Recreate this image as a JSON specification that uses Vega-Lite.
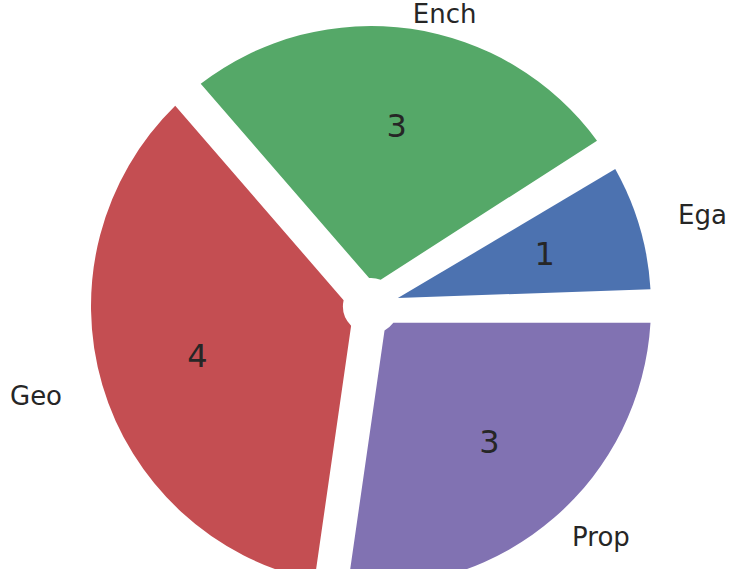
{
  "$schema": "https://vega.github.io/schema/vega-lite/v6.json",
  "width": 732,
  "height": 526,
  "padding": {"left": 5, "top": 43, "right": 0, "bottom": 0},
  "autosize": {"type": "none"},
  "background": "white",
  "view": {"stroke": null},
  "data": {"values": [
    {"label": "Ega", "count": 1},
    {"label": "Ench", "count": 3},
    {"label": "Geo", "count": 4},
    {"label": "Prop", "count": 3}
  ]},
  "encoding": {
    "theta": {"field": "count", "type": "quantitative", "stack": true,
      "scale": {"range": [1.5708, -4.7124]}},
    "order": {"field": "label", "type": "nominal"}
  },
  "layer": [
    {
      "mark": {"type": "arc", "outerRadius": 280, "innerRadius": 28, "padAngle": 0.12},
      "encoding": {
        "color": {"field": "label", "type": "nominal", "legend": null,
          "scale": {"domain": ["Ega", "Ench", "Geo", "Prop"], "range": ["#4c72b0", "#55a868", "#c44e52", "#8172b2"]}}
      }
    },
    {
      "mark": {"type": "text", "radius": 181, "font": "DejaVu Sans", "fontSize": 32, "color": "#262626", "baseline": "middle", "align": "center"},
      "encoding": {"text": {"field": "count", "type": "quantitative"}}
    },
    {
      "mark": {"type": "text", "radius": 320, "font": "DejaVu Sans", "fontSize": 26, "color": "#262626", "baseline": "middle", "align": "left"},
      "encoding": {
        "text": {"condition": {"test": "datum.label === 'Ega'", "field": "label"}, "value": ""}
      }
    },
    {
      "mark": {"type": "text", "radius": 294, "font": "DejaVu Sans", "fontSize": 26, "color": "#262626", "baseline": "middle", "align": "left"},
      "encoding": {
        "text": {"condition": {"test": "datum.label === 'Ench'", "field": "label"}, "value": ""}
      }
    },
    {
      "mark": {"type": "text", "radius": 307, "font": "DejaVu Sans", "fontSize": 26, "color": "#262626", "baseline": "middle", "align": "left"},
      "encoding": {
        "text": {"condition": {"test": "datum.label === 'Prop'", "field": "label"}, "value": ""}
      }
    },
    {
      "mark": {"type": "text", "radius": 322, "font": "DejaVu Sans", "fontSize": 26, "color": "#262626", "baseline": "middle", "align": "right"},
      "encoding": {
        "text": {"condition": {"test": "datum.label === 'Geo'", "field": "label"}, "value": ""}
      }
    }
  ]
}
